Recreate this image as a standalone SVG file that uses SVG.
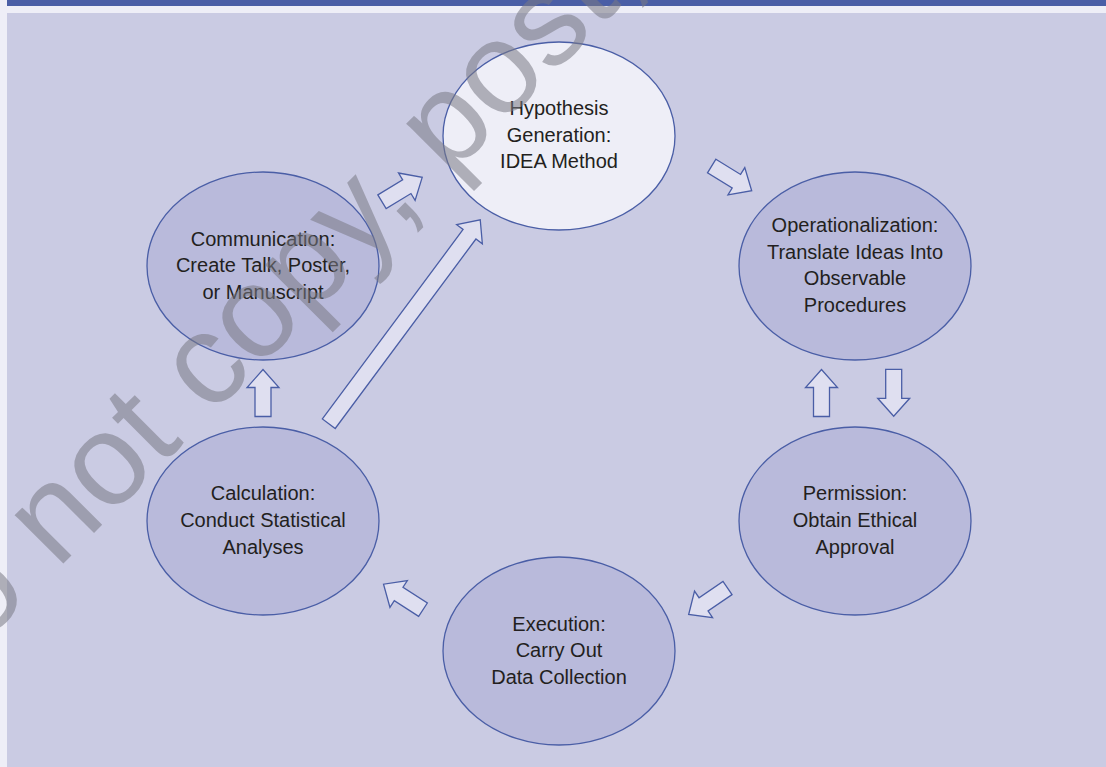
<svg xmlns="http://www.w3.org/2000/svg" width="1106" height="767" viewBox="0 0 1106 767">
  <style>
    .node { fill: #b9badb; stroke: #4a5ea6; stroke-width: 1.3; }
    .node.light { fill: #eeeef7; }
    .lbl { font-family: "Liberation Sans", Arial, sans-serif; font-size: 20px; fill: #231f20; text-anchor: middle; }
    .arr { fill: #dfdff0; stroke: #4a5ea6; stroke-width: 1.3; stroke-linejoin: miter; }
    .wm { font-family: "Liberation Sans", Arial, sans-serif; font-size: 130px; fill: #7a7a85; opacity: 0.55; }
  </style>
  <defs>
    <path id="a-short" d="M0,-8H29V-16L47,0L29,16V8H0Z"/>
    <path id="a-long" d="M0,-8H236V-16L254,0L236,16V8H0Z"/>
  </defs>

  <rect x="0" y="0" width="1106" height="767" fill="#eeeef7"/>
  <rect x="7" y="0" width="1099" height="6" fill="#4a5ea6"/>
  <rect x="7" y="13" width="1099" height="754" fill="#cacbe3"/>

  <g id="connectors">
    <use href="#a-short" class="arr" transform="translate(382,201.7) rotate(-31.2)"/>
    <use href="#a-short" class="arr" transform="translate(711.7,166) rotate(31.7)"/>
    <use href="#a-short" class="arr" transform="translate(821.5,416.5) rotate(-90)"/>
    <use href="#a-short" class="arr" transform="translate(893.7,369.3) rotate(90)"/>
    <use href="#a-short" class="arr" transform="translate(727.5,588) rotate(145.7)"/>
    <use href="#a-short" class="arr" transform="translate(423,609.7) rotate(-147.1)"/>
    <use href="#a-short" class="arr" transform="translate(263,416.5) rotate(-90)"/>
    <use href="#a-long" class="arr" transform="translate(328.8,423.7) rotate(-53.4)"/>
  </g>

  <g id="node-hypothesis">
    <ellipse class="node light" cx="559" cy="136" rx="116" ry="94"/>
    <text class="lbl" x="559" y="115">Hypothesis</text>
    <text class="lbl" x="559" y="142">Generation:</text>
    <text class="lbl" x="559" y="168">IDEA Method</text>
  </g>
  <g id="node-operationalization">
    <ellipse class="node" cx="855" cy="266" rx="116" ry="94"/>
    <text class="lbl" x="855" y="232">Operationalization:</text>
    <text class="lbl" x="855" y="259">Translate Ideas Into</text>
    <text class="lbl" x="855" y="285">Observable</text>
    <text class="lbl" x="855" y="312">Procedures</text>
  </g>
  <g id="node-permission">
    <ellipse class="node" cx="855" cy="521" rx="116" ry="94"/>
    <text class="lbl" x="855" y="500">Permission:</text>
    <text class="lbl" x="855" y="527">Obtain Ethical</text>
    <text class="lbl" x="855" y="554">Approval</text>
  </g>
  <g id="node-execution">
    <ellipse class="node" cx="559" cy="651" rx="116" ry="94"/>
    <text class="lbl" x="559" y="631">Execution:</text>
    <text class="lbl" x="559" y="657">Carry Out</text>
    <text class="lbl" x="559" y="684">Data Collection</text>
  </g>
  <g id="node-calculation">
    <ellipse class="node" cx="263" cy="521" rx="116" ry="94"/>
    <text class="lbl" x="263" y="500">Calculation:</text>
    <text class="lbl" x="263" y="527">Conduct Statistical</text>
    <text class="lbl" x="263" y="554">Analyses</text>
  </g>
  <g id="node-communication">
    <ellipse class="node" cx="263" cy="266" rx="116" ry="94"/>
    <text class="lbl" x="263" y="246">Communication:</text>
    <text class="lbl" x="263" y="272">Create Talk, Poster,</text>
    <text class="lbl" x="263" y="299">or Manuscript</text>
  </g>

  <g id="watermark">
    <text class="wm" transform="translate(-86,713) rotate(-45)">Do not copy, post,</text>
  </g>
</svg>
